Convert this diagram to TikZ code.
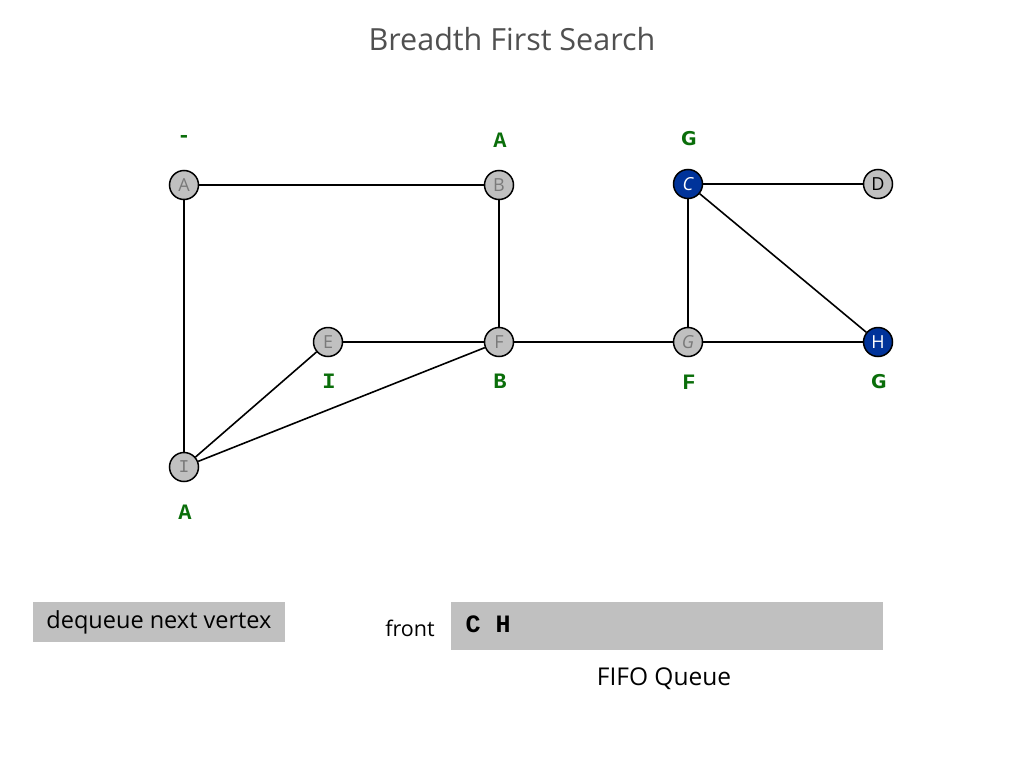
\documentclass[tikz,border=0pt]{standalone}
\usepackage{fontspec}
\setmainfont{Open Sans}
\newfontfamily\labfont{Liberation Mono}
\newfontfamily\gfont{DejaVu Sans}
\definecolor{nodegray}{HTML}{C0C0C0}
\definecolor{nodeblue}{HTML}{00339A}
\definecolor{labgreen}{HTML}{0A6E0A}
\definecolor{titlegray}{HTML}{505050}
\definecolor{txtgray}{HTML}{7A7A7A}
\begin{document}
\begin{tikzpicture}[x=1pt,y=-1pt,
  vtx/.style={circle,draw=black,line width=1.5pt,fill=nodegray,minimum size=29pt,inner sep=0pt,text=txtgray,font=\fontsize{18}{18}\selectfont},
  bvtx/.style={vtx,fill=nodeblue,text=white},
  lab/.style={text=labgreen,font=\labfont\bfseries\fontsize{22}{22}\selectfont},
  glab/.style={text=labgreen,font=\gfont\bfseries\fontsize{19}{19}\selectfont},
  edge/.style={line width=1.6pt}]
\useasboundingbox (0,0) rectangle (1024,768);
\fill[white] (0,0) rectangle (1024,768);
\node[text=titlegray,font=\fontsize{30.5}{30.5}\selectfont] (title) at (512,39) {Breadth First Search};
\node[vtx] (A) at (184,185) {A};
\node[vtx] (B) at (499,185) {B};
\node[bvtx] (C) at (688,184) {\itshape C};
\node[vtx,text=black] (D) at (878,184) {D};
\node[vtx] (E) at (328,342) {E};
\node[vtx] (F) at (499,342) {F};
\node[vtx] (G) at (688,342) {\itshape G};
\node[bvtx] (H) at (878,342) {H};
\node[vtx] (I) at (184,467) {\labfont I};
\draw[edge] (A) -- (B);
\draw[edge] (A) -- (I);
\draw[edge] (B) -- (F);
\draw[edge] (E) -- (F);
\draw[edge] (F) -- (G);
\draw[edge] (G) -- (H);
\draw[edge] (C) -- (D);
\draw[edge] (C) -- (G);
\draw[edge] (C) -- (H);
\draw[edge] (I) -- (E);
\draw[edge] (I) -- (F);
\node[lab] (lA) at (184,139) {-};
\node[lab] (lB) at (500,140) {A};
\node[glab] (lC) at (689,139) {G};
\node[lab] (lE) at (329,381) {I};
\node[lab] (lF) at (500,381) {B};
\node[lab] (lG) at (689,382) {F};
\node[glab] (lH) at (879,382) {G};
\node[lab] (lI) at (185,512) {A};
\node[fill=nodegray,minimum width=252pt,minimum height=40pt,inner sep=0pt,font=\fontsize{23.5}{23.5}\selectfont] (deq) at (159,622) {dequeue next vertex};
\node[fill=nodegray,minimum width=432pt,minimum height=48pt,inner sep=0pt] (queue) at (667,626) {};
\node[font=\fontsize{21.5}{21.5}\selectfont] (front) at (410,628) {front};
\node[anchor=west,font=\labfont\bfseries\fontsize{25}{25}\selectfont] (qc) at (462,624) {C H};
\node[font=\fontsize{24.5}{24.5}\selectfont] (fifo) at (664,679) {FIFO Queue};
\end{tikzpicture}
\end{document}
